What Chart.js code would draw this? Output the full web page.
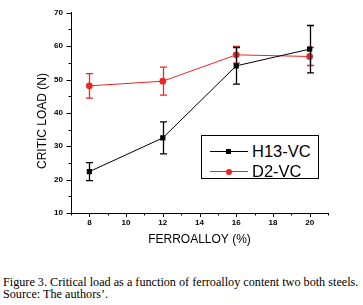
<!DOCTYPE html>
<html>
<head>
<meta charset="utf-8">
<script src="https://cdn.jsdelivr.net/npm/chart.js@4"></script>
<style>
  html, body { margin: 0; padding: 0; background: #fff; }
  #wrap { position: relative; width: 363px; height: 305px; overflow: hidden; }
  #c { position: absolute; left: 0; top: 0; }
  #legend { position: absolute; left: 201px; top: 135px; width: 116px; height: 42px; border: 1px solid #000; background: #fff; }
  .item { position: absolute; left: 0; width: 116px; height: 20px; }
  .ln { position: absolute; left: 8px; width: 38px; height: 1px; top: 10px; }
  .mk { position: absolute; }
  .tx { position: absolute; left: 50px; top: 0; font-family: "Liberation Sans", Arial, sans-serif; font-size: 16.5px; line-height: 20px; color: #000; white-space: nowrap; }
  #caption { position: absolute; left: 3px; top: 276px; font-family: "Liberation Serif", "Times New Roman", serif; font-size: 12.2px; line-height: 12px; color: #000; white-space: nowrap; }
</style>
</head>
<body>
<div id="wrap">
  <canvas id="c" width="363" height="255"></canvas>
  <div id="legend"></div>
  <div id="caption">Figure 3. Critical load as a function of ferroalloy content two both steels.<br>Source: The authors’.</div>
</div>
<script>
// ---- data ----
const ferroalloy = [8, 12, 16, 20];
const h13Load = [22.4, 32.5, 54.1, 59.1];
const h13Err = [2.7, 4.8, 5.5, 7.1];
const d2Load = [48.1, 49.5, 57.4, 56.9];
const d2Err = [3.7, 4.2, 2.5, 2.7];
const seriesNames = ['H13-VC', 'D2-VC'];
const xTitle = 'FERROALLOY (%)';
const yTitle = 'CRITIC LOAD (N)';
const xMin = 7, xMax = 21, yMin = 10, yMax = 70;

const BLACK = '#000000';
const RED = 'rgb(240,36,36)';

function toPoints(xs, ys) { return xs.map((x, i) => ({ x: x, y: ys[i] })); }

const errorBars = {
  id: 'errorBars',
  beforeDatasetDraw(chart, args) {
    const ds = chart.data.datasets[args.index];
    if (!ds.errors) return;
    const xs = chart.scales.x, ys = chart.scales.y, ctx = chart.ctx;
    ctx.save();
    ctx.strokeStyle = ds.borderColor;
    ctx.lineWidth = 1.3;
    ds.data.forEach((p, i) => {
      const e = ds.errors[i];
      const px = Math.round(xs.getPixelForValue(p.x)) + 0.5;
      const top = ys.getPixelForValue(p.y + e);
      const bot = ys.getPixelForValue(p.y - e);
      ctx.beginPath();
      ctx.moveTo(px, top); ctx.lineTo(px, bot);
      ctx.moveTo(px - 3.5, top); ctx.lineTo(px + 3.5, top);
      ctx.moveTo(px - 3.5, bot); ctx.lineTo(px + 3.5, bot);
      ctx.stroke();
    });
    ctx.restore();
  }
};

const axisTicks = {
  id: 'axisTicks',
  afterDraw(chart) {
    const xs = chart.scales.x, ys = chart.scales.y, ctx = chart.ctx;
    const area = chart.chartArea;
    ctx.save();
    ctx.strokeStyle = '#000';
    ctx.lineWidth = 1;
    ctx.beginPath();
    for (let v = xMin; v <= xMax; v++) {
      const px = Math.round(xs.getPixelForValue(v)) + 0.5;
      const len = (v % 2 === 0) ? 4 : 2.5;
      ctx.moveTo(px, area.bottom); ctx.lineTo(px, area.bottom + len);
    }
    for (let v = yMin; v <= yMax; v += 5) {
      const py = Math.round(ys.getPixelForValue(v)) + 0.5;
      const len = (v % 10 === 0) ? 4.5 : 2.5;
      ctx.moveTo(area.left, py); ctx.lineTo(area.left - len, py);
    }
    ctx.stroke();
    // y axis title
    ctx.translate(43, 121);
    ctx.rotate(-Math.PI / 2);
    ctx.font = '12px "Liberation Sans", Arial, sans-serif';
    ctx.fillStyle = '#000';
    ctx.textAlign = 'center';
    ctx.textBaseline = 'middle';
    ctx.fillText(yTitle, 0, 0);
    ctx.restore();
  }
};

const tickFont = { family: '"Liberation Sans", Arial, sans-serif', size: 8, weight: 'bold' };

const chart = new Chart(document.getElementById('c'), {
  type: 'scatter',
  data: {
    datasets: [
      {
        label: seriesNames[0],
        data: toPoints(ferroalloy, h13Load),
        errors: h13Err,
        showLine: true,
        borderColor: BLACK,
        backgroundColor: BLACK,
        borderWidth: 1,
        pointStyle: 'rect',
        pointRadius: 3.7,
        pointBorderWidth: 0,
        pointHoverRadius: 3.7
      },
      {
        label: seriesNames[1],
        data: toPoints(ferroalloy, d2Load),
        errors: d2Err,
        showLine: true,
        borderColor: RED,
        backgroundColor: RED,
        borderWidth: 1,
        pointStyle: 'circle',
        pointRadius: 3.4,
        pointBorderWidth: 0,
        pointHoverRadius: 3.4
      }
    ]
  },
  options: {
    responsive: false,
    animation: false,
    devicePixelRatio: 1,
    layout: { padding: { top: 12, right: 35, bottom: 0, left: 0 } },
    plugins: { legend: { display: false }, tooltip: { enabled: false } },
    scales: {
      x: {
        type: 'linear',
        min: xMin, max: xMax,
        afterFit(scale) { scale.height = 42; },
        grid: { display: true, drawOnChartArea: false, drawTicks: false },
        border: { display: true, color: '#000', width: 1 },
        ticks: {
          stepSize: 1, autoSkip: false, maxRotation: 0, padding: 5,
          color: '#000', font: tickFont,
          callback: (v) => (v % 2 === 0 ? String(v) : '')
        },
        title: {
          display: true, text: xTitle, color: '#000',
          font: { family: '"Liberation Sans", Arial, sans-serif', size: 12 },
          padding: { top: 0, bottom: 8 }
        }
      },
      y: {
        type: 'linear',
        min: yMin, max: yMax,
        afterFit(scale) { scale.width = 71; },
        grid: { display: true, drawOnChartArea: false, drawTicks: false },
        border: { display: true, color: '#000', width: 1 },
        ticks: {
          stepSize: 10, autoSkip: false, padding: 8,
          color: '#000', font: tickFont
        }
      }
    }
  },
  plugins: [errorBars, axisTicks]
});

// legend built from the datasets
const legend = document.getElementById('legend');
chart.data.datasets.forEach((ds, i) => {
  const item = document.createElement('div');
  item.className = 'item';
  item.style.top = (5 + i * 20) + 'px';
  const ln = document.createElement('div');
  ln.className = 'ln';
  ln.style.background = ds.borderColor;
  const mk = document.createElement('div');
  mk.className = 'mk';
  if (ds.pointStyle === 'rect') {
    mk.style.cssText = 'left:24px;top:8px;width:5px;height:5px;background:' + ds.backgroundColor;
  } else {
    mk.style.cssText = 'left:24px;top:7.5px;width:6px;height:6px;border-radius:50%;background:' + ds.backgroundColor;
  }
  const tx = document.createElement('div');
  tx.className = 'tx';
  tx.textContent = ds.label;
  item.appendChild(ln); item.appendChild(mk); item.appendChild(tx);
  legend.appendChild(item);
});
</script>
</body>
</html>
